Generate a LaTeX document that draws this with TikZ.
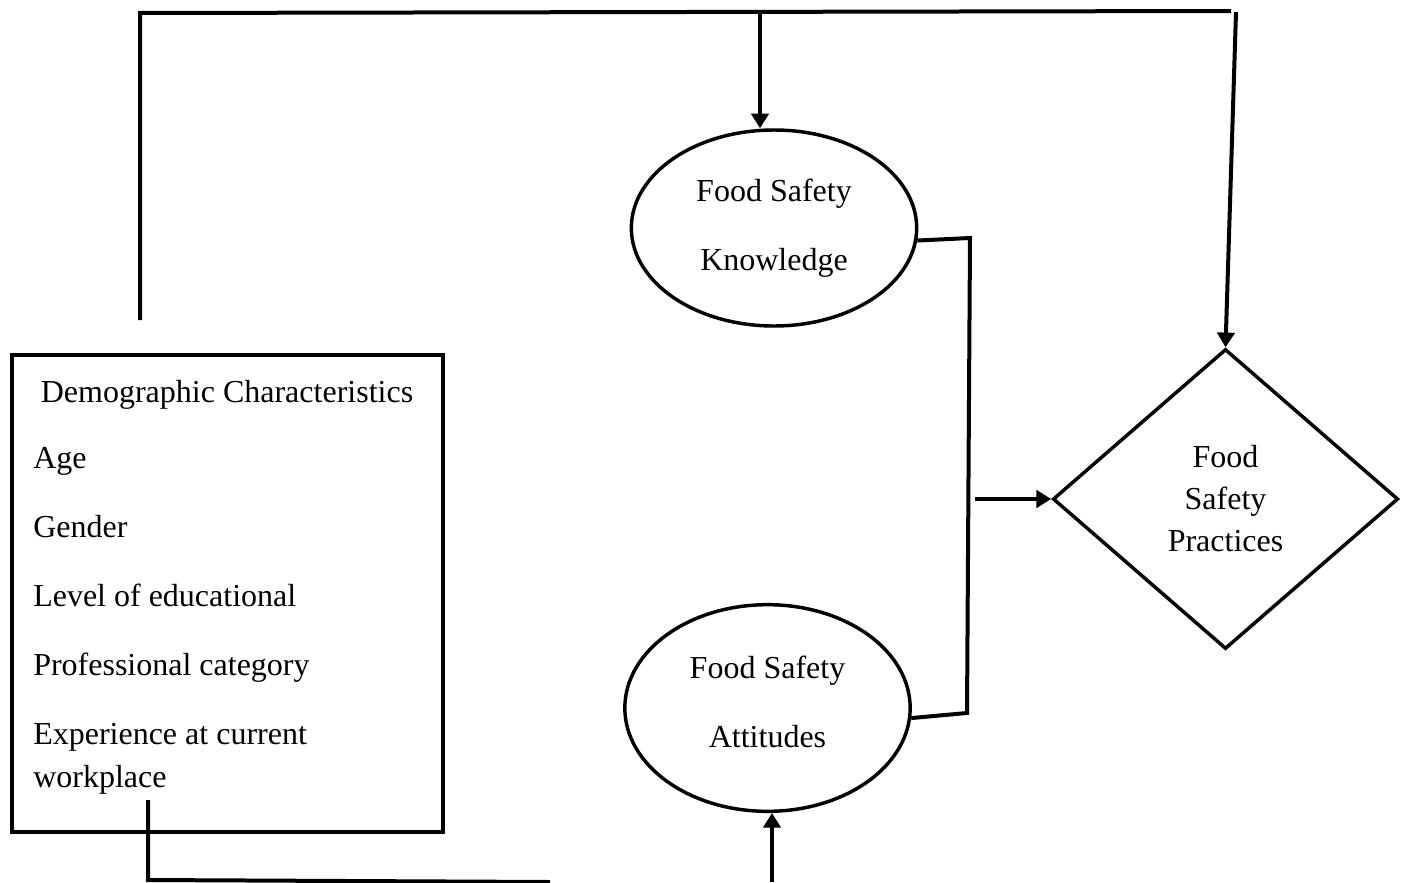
\documentclass[tikz,border=0pt]{standalone}
\usepackage{fontspec}
\setmainfont{Liberation Serif}
\usetikzlibrary{positioning,arrows.meta,shapes.geometric}

\tikzset{
	txt/.style={font=\fontsize{24}{51.75}\selectfont,inner sep=0pt},
	oval/.style={ellipse,draw,line width=2.6pt,inner sep=0pt,align=center,
		minimum width=214pt,font=\fontsize{24}{51.75}\selectfont},
	decision/.style={diamond,draw,line width=2.6pt,inner sep=0pt,align=center,
		minimum width=259pt,minimum height=225pt,font=\fontsize{24}{31.5}\selectfont},
	frame/.style={draw,line width=2.6pt,inner sep=0pt,
		minimum width=323.25pt,minimum height=357.75pt},
	link/.style={line width=3pt},
	flow/.style={line width=3pt,-{Triangle[length=11pt,width=13pt]}}
}

\begin{document}
\begin{tikzpicture}[x=0.75pt,y=-0.75pt]

	\useasboundingbox (0,0) rectangle (1405,882);

	% Demographic box
	\node[frame] (demo) at (227.5,593.5) {};
	\node[txt,anchor=base] (title) at (227,402) {Demographic Characteristics};
	\foreach \item [count=\i from 0] in {Age,Gender,Level of educational,
		Professional category,Experience at current} {
		\node[txt,anchor=base west] (item\i) at (33,468+69*\i) {\item};
	}
	\node[txt,anchor=base west] (workplace) at (33,787) {workplace};

	% Knowledge and attitudes
	\node[oval,minimum height=147pt] (know) at (774,228) {Food Safety\\Knowledge};
	\node[oval,minimum height=155pt] (att) at (767.5,708) {Food Safety\\Attitudes\rule[-10pt]{0pt}{0pt}};

	% Practices
	\node[decision] (prac) at (1225.5,499) {Food\\Safety\\Practices};

	% Frame over the top
	\coordinate (demotop) at (140,320);
	\coordinate (topleft) at (140,13);
	\coordinate (topright) at (1231,11);
	\coordinate (topmid) at (760,13);
	\coordinate (pracin) at (1236,12);
	\draw[link] (demotop) -- (topleft) -- (topright);
	\draw[flow] (topmid) -- (topmid |- know.north);
	\draw[flow] (pracin) -- (prac.north);

	% Joining knowledge and attitudes
	\coordinate (joinup) at (970,238);
	\coordinate (joindown) at (967,713);
	\coordinate (joinout) at (975,499);
	\draw[link] (know.-5) -- (joinup) -- (joindown) -- (att.-4);
	\draw[flow] (joinout) -- (joinout -| prac.west);

	% Bottom
	\coordinate (demobot) at (148,800);
	\coordinate (botleft) at (148,880);
	\coordinate (botright) at (550,882);
	\coordinate (attin) at (772,882);
	\draw[link] (demobot) -- (botleft) -- (botright);
	\draw[flow] (attin) -- (attin |- att.south);

\end{tikzpicture}
\end{document}
